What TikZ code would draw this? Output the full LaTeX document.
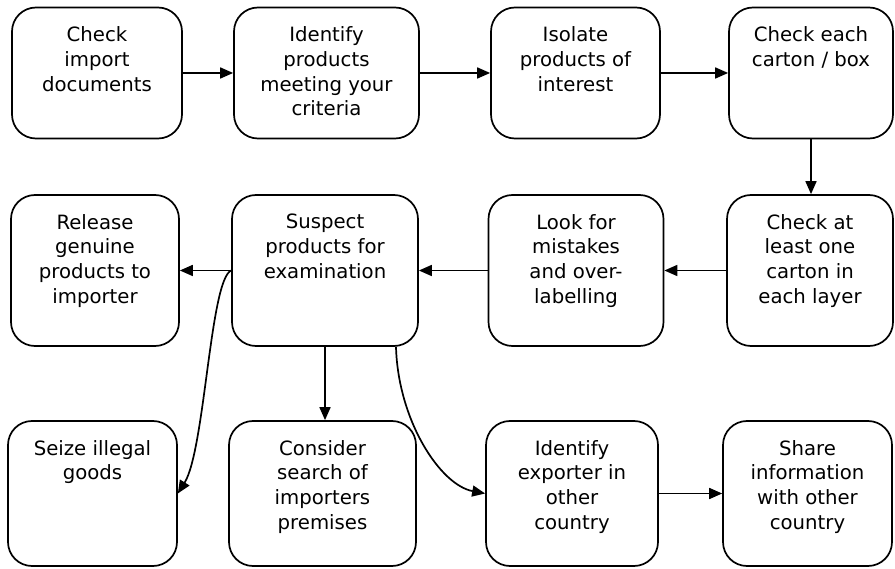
\documentclass[tikz,border=0pt]{standalone}
\usepackage{fontspec}
\setmainfont{DejaVu Sans}
\usetikzlibrary{arrows.meta}
\begin{document}
\begin{tikzpicture}[x=1pt,y=-1pt,
  stepbox/.style={draw=black, line width=1.7pt, rounded corners=24pt, inner sep=0pt},
  txt/.style={anchor=north, align=center, inner sep=0pt, font=\fontsize{19.7}{24.6}\selectfont},
  arr/.style={line width=1.7pt, -{Triangle[length=13pt,width=11pt]}}]
\useasboundingbox (0,0) rectangle (895,569);
% row 1
\node[stepbox, minimum width=170pt, minimum height=131pt] (b1) at (97,73) {};
\node[stepbox, minimum width=185pt, minimum height=131pt] (b2) at (326.5,73) {};
\node[stepbox, minimum width=169pt, minimum height=131pt] (b3) at (575.5,73) {};
\node[stepbox, minimum width=164pt, minimum height=131pt] (b4) at (811,73) {};
% row 2
\node[stepbox, minimum width=168pt, minimum height=151pt] (b5) at (95,270.5) {};
\node[stepbox, minimum width=186pt, minimum height=151pt] (b6) at (325,270.5) {};
\node[stepbox, minimum width=175pt, minimum height=151pt] (b7) at (576,270.5) {};
\node[stepbox, minimum width=166pt, minimum height=151pt] (b8) at (810,270.5) {};
% row 3
\node[stepbox, minimum width=169pt, minimum height=145pt] (b9) at (92.5,493.5) {};
\node[stepbox, minimum width=187pt, minimum height=145pt] (b10) at (322.5,493.5) {};
\node[stepbox, minimum width=172pt, minimum height=145pt] (b11) at (572,493.5) {};
\node[stepbox, minimum width=169pt, minimum height=145pt] (b12) at (807.5,493.5) {};
% texts
\node[txt] (t1) at ([yshift=-20pt]b1.north) {Check\\import\\documents};
\node[txt] (t2) at ([yshift=-20pt]b2.north) {Identify\\products\\meeting your\\criteria};
\node[txt] (t3) at ([yshift=-20pt]b3.north) {Isolate\\products of\\interest};
\node[txt] (t4) at ([yshift=-20pt]b4.north) {Check each\\carton / box};
\node[txt] (t5) at ([yshift=-20pt]b5.north) {Release\\genuine\\products to\\importer};
\node[txt] (t6) at ([yshift=-20pt]b6.north) {Suspect\\products for\\examination};
\node[txt] (t7) at ([yshift=-20pt]b7.north) {Look for\\mistakes\\and over-\\labelling};
\node[txt] (t8) at ([yshift=-20pt]b8.north) {Check at\\least one\\carton in\\each layer};
\node[txt] (t9) at ([yshift=-20pt]b9.north) {Seize illegal\\goods};
\node[txt] (t10) at ([yshift=-20pt]b10.north) {Consider\\search of\\importers\\premises};
\node[txt] (t11) at ([yshift=-20pt]b11.north) {Identify\\exporter in\\other\\country};
\node[txt] (t12) at ([yshift=-20pt]b12.north) {Share\\information\\with other\\country};
% connectors
\draw[arr] (b1.east) -- (b2.west);
\draw[arr] (b2.east) -- (b3.west);
\draw[arr] (b3.east) -- (b4.west);
\draw[arr] (b4.south) -- (b4.south |- b8.north);
\draw[arr] (b8.west) -- (b7.east);
\draw[arr] (b7.west) -- (b6.east);
\draw[arr] (b6.west) -- (b5.east);
\draw[arr] (b6.west) .. controls (210,280) and (205,450) .. (b9.east);
\draw[arr] (b6.south) -- (b6.south |- b10.north);
\coordinate (c6) at ([xshift=71pt]b6.south);
\draw[arr] (c6) .. controls (398,420) and (440,485) .. (b11.west);
\draw[arr] (b11.east) -- (b12.west);
\end{tikzpicture}
\end{document}
